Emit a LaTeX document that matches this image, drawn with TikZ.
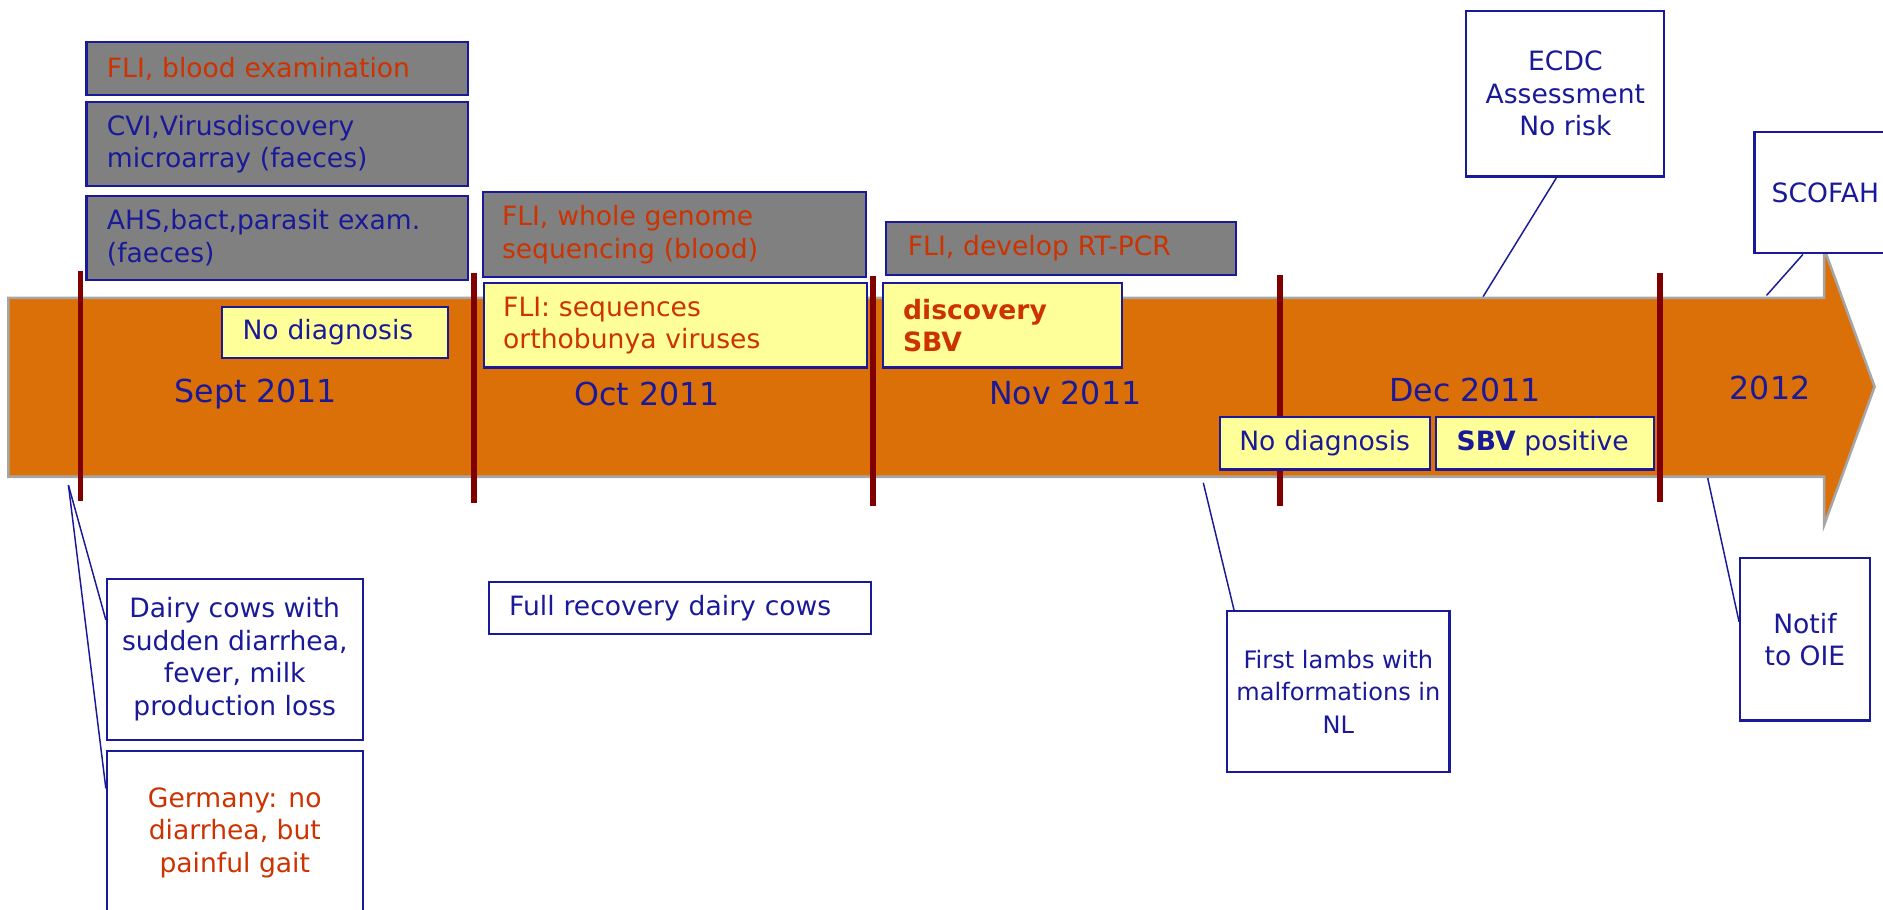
\documentclass[tikz,border=0pt]{standalone}
\usepackage{fontspec}
\setmainfont{DejaVu Sans}
\definecolor{barorange}{RGB}{220,112,8}
\definecolor{navy}{RGB}{26,26,153}
\definecolor{rust}{RGB}{204,51,0}
\definecolor{tickred}{RGB}{128,0,0}
\definecolor{paleyellow}{RGB}{255,255,153}

\begin{document}
\begin{tikzpicture}[x=0.02cm, y=-0.02cm]
        \tikzset{box/.style={draw=navy, line width=1pt, text=navy, inner sep=0pt,
                             font=\fontsize{12.6pt}{15.4pt}\selectfont},
                 graybox/.style={box, fill=gray, align=left},
                 yellowbox/.style={box, fill=paleyellow, align=left},
                 whitebox/.style={box, fill=white, align=center},
                 month/.style={text=navy, font=\fontsize{15pt}{18pt}\selectfont},
                 tick/.style={tickred, line width=2.8pt},
                 link/.style={navy, line width=0.7pt}}
        \useasboundingbox (0,0) rectangle (1568,757);
        % time bar
        \draw [draw=gray!70, line width=1.2pt, fill=barorange]
              (7,248) -- (1519,248) -- (1519,207) -- (1561,322) -- (1519,437) -- (1519,397) -- (7,397) -- cycle;
        \foreach \x/\ya/\yb in {67/226/417, 395/227/419, 727/230/421, 1066/229/421, 1382/227/418}
            \draw [tick] (\x,\ya) -- (\x,\yb);
        \node [month] (sept) at (213,328) {Sept 2011};
        \node [month] (oct)  at (539,328) {Oct 2011};
        \node [month] (nov)  at (887,327) {Nov 2011};
        \node [month] (dec)  at (1220,325) {Dec 2011};
        \node [month] (y2012) at (1474,323) {2012};
        % lab work
        \node [graybox, minimum width=6.36cm, minimum height=0.88cm, text width=5.68cm] (blood) at (231,57)
              {\color{rust}FLI, blood examination};
        \node [graybox, minimum width=6.36cm, minimum height=1.40cm, text width=5.68cm] (cvi) at (231,120)
              {CVI,Virusdiscovery\\microarray (faeces)};
        \node [graybox, minimum width=6.36cm, minimum height=1.40cm, text width=5.68cm] (ahs) at (231,198)
              {AHS,bact,parasit exam.\\(faeces)};
        \node [graybox, minimum width=6.38cm, minimum height=1.42cm, text width=5.74cm] (genome) at (561.5,195.5)
              {\color{rust}FLI, whole genome\\sequencing (blood)};
        \node [graybox, minimum width=5.82cm, minimum height=0.88cm, text width=5.10cm] (rtpcr) at (883.5,207)
              {\color{rust}FLI, develop RT-PCR};
        % results
        \node [yellowbox, minimum width=3.76cm, minimum height=0.84cm, text width=3.08cm] (nodiag) at (279,277)
              {No diagnosis};
        \node [yellowbox, minimum width=6.38cm, minimum height=1.40cm, text width=5.74cm] (seq) at (562.5,271)
              {\color{rust}FLI: sequences\\orthobunya viruses};
        \node [yellowbox, minimum width=3.98cm, minimum height=1.40cm, text width=3.30cm] (disc) at (834.5,271)
              {\color{rust}\bfseries discovery\\SBV};
        \node [yellowbox, minimum width=3.50cm, minimum height=0.88cm, text width=2.86cm] (nodiagb) at (1103.5,369)
              {No diagnosis};
        \node [yellowbox, minimum width=3.62cm, minimum height=0.88cm, text width=2.94cm] (sbvpos) at (1286.5,369)
              {\textbf{SBV} positive};
        % events
        \node [whitebox, minimum width=3.30cm, minimum height=2.76cm] (ecdc) at (1303.5,78)
              {ECDC\\Assessment\\No risk};
        \node [whitebox, minimum width=2.36cm, minimum height=2.02cm] (scofah) at (1520,160.5)
              {SCOFAH};
        \node [whitebox, minimum width=4.26cm, minimum height=2.68cm] (dairy) at (195.5,549)
              {Dairy cows with\\sudden diarrhea,\\fever, milk\\production loss};
        \node [whitebox, minimum width=4.26cm, minimum height=2.74cm] (germany) at (195.5,693.5)
              {\color{rust}Germany: no\\\color{rust}diarrhea, but\\\color{rust}painful gait};
        \node [box, align=left, minimum width=6.36cm, minimum height=0.86cm, text width=5.68cm] (recovery) at (566,506.5)
              {Full recovery dairy cows};
        \node [whitebox, minimum width=3.70cm, minimum height=2.68cm, font=\fontsize{11.4pt}{15.4pt}\selectfont] (lambs) at (1114.5,576)
              {First lambs with\\malformations in\\NL};
        \node [whitebox, minimum width=2.16cm, minimum height=2.70cm] (notif) at (1503,532.5)
              {Notif\\to OIE};
        % pointers
        \coordinate (cowsfoot)   at (57,404);
        \coordinate (lambsfoot)  at (1002,402);
        \coordinate (notiffoot)  at (1422,398);
        \coordinate (ecdcfoot)   at (1235,247);
        \coordinate (scofahfoot) at (1471,246);
        \draw [link] (cowsfoot) -- (dairy.163);
        \draw [link] (cowsfoot) -- (germany.161);
        \draw [link] (lambsfoot) -- (lambs.142);
        \draw [link] (notiffoot) -- (notif.165);
        \draw [link] (ecdcfoot) -- (ecdc.264);
        \draw [link] (scofahfoot) -- (scofah.250);
    \end{tikzpicture}
\end{document}
